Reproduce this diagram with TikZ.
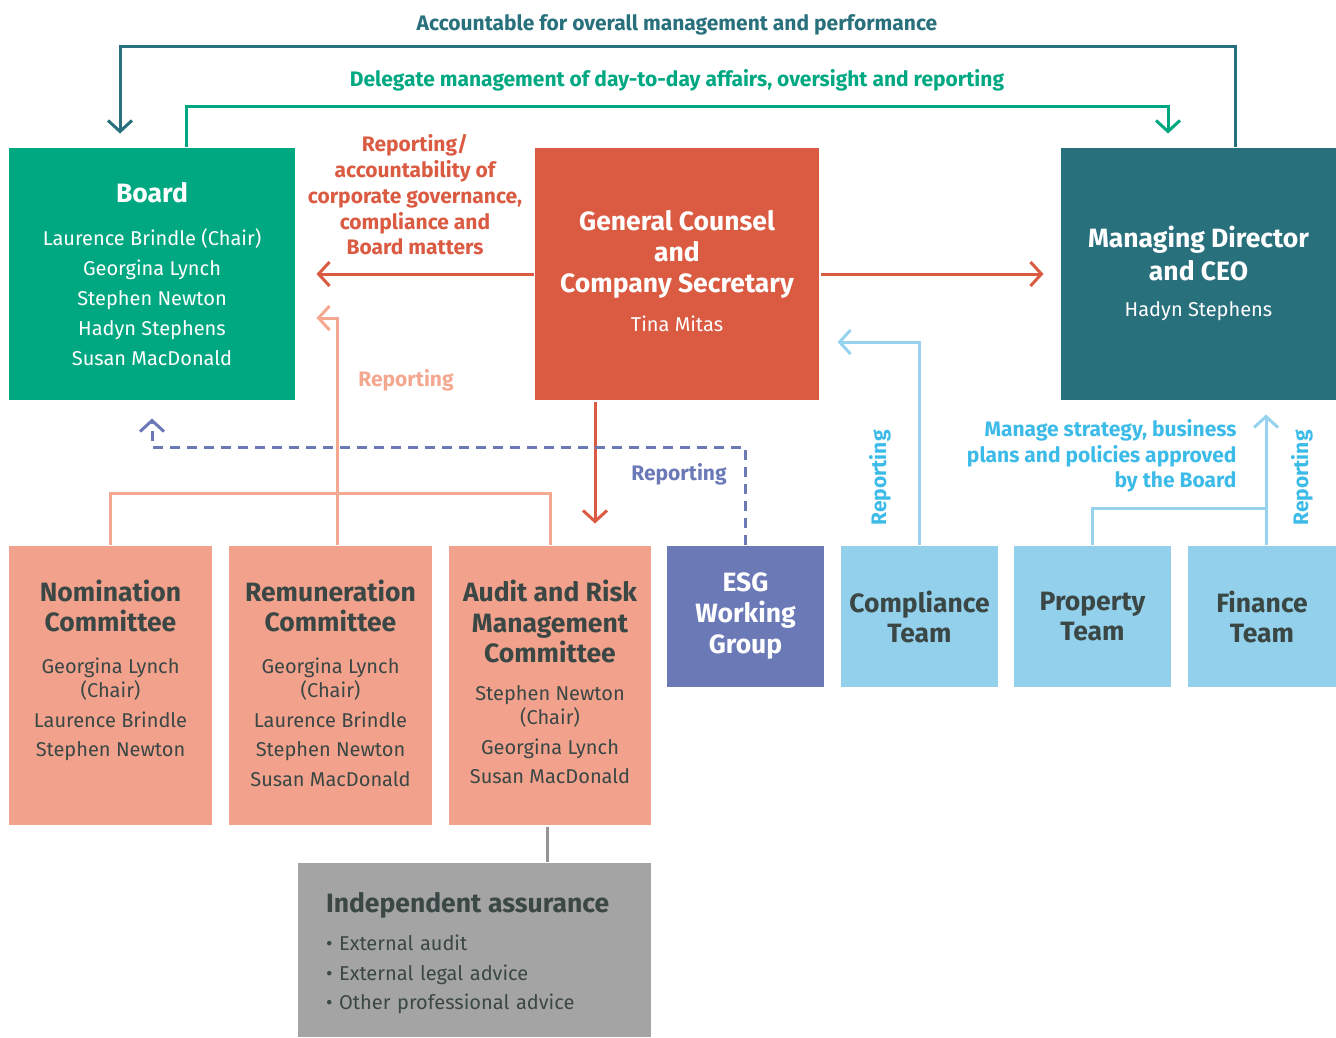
\documentclass[tikz,border=0pt]{standalone}
\usepackage{fontspec}
\setmainfont{Fira Sans}
\usetikzlibrary{arrows.meta,positioning}

\definecolor{boardgreen}{HTML}{00A882}
\definecolor{gcred}{HTML}{DA5B42}
\definecolor{mdteal}{HTML}{29707D}
\definecolor{compink}{HTML}{F2A28C}
\definecolor{repsalmon}{HTML}{F5A890}
\definecolor{esgblue}{HTML}{6B7AB7}
\definecolor{teamblue}{HTML}{93D0EC}
\definecolor{teamline}{HTML}{97D2EE}
\definecolor{cyantext}{HTML}{3DBBE8}
\definecolor{assurgray}{HTML}{A4A4A4}
\definecolor{darktext}{HTML}{3A4745}

% title lines set as one block: \boxtitle[line spacing]{lines}
\newcommand{\boxtitle}[2][30]{{\fontsize{26.5}{#1}\selectfont\bfseries\begin{tabular}[b]{@{}c@{}}#2\end{tabular}}}

\tikzset{
  box/.style={rectangle, inner sep=0pt, align=center, font=\fontsize{20}{30}\selectfont},
  comtext/.style={inner sep=0pt, align=center, text=darktext, font=\fontsize{20}{29.5}\selectfont},
  teamtext/.style={box, text=darktext, font=\fontsize{26.5}{30}\selectfont\bfseries},
  linelabel/.style={inner sep=0pt, align=center, font=\fontsize{21}{25.7}\selectfont\bfseries}
}

\begin{document}
\begin{tikzpicture}[x=1pt, y=-1pt, line width=3pt, >={Straight Barb[length=11pt,width=24pt]}]

\useasboundingbox (0,0) rectangle (1336,1037);

% draw top boxes
\node[box, fill=boardgreen, text=white, minimum width=286pt, minimum height=252pt] (board) at (152,274)
  {\boxtitle{Board}\\[13pt]
   Laurence Brindle (Chair)\\ Georgina Lynch\\ Stephen Newton\\ Hadyn Stephens\\ Susan MacDonald};
\node[box, fill=gcred, text=white, minimum width=284pt, minimum height=252pt] (gc) at (677,274)
  {\boxtitle[31]{General Counsel\\ and\\ Company Secretary}\\[9pt]
   Tina Mitas\rule[-7pt]{0pt}{0pt}};
\node[box, fill=mdteal, text=white, minimum width=275pt, minimum height=252pt] (md) at (1198.5,274)
  {\boxtitle[33]{Managing Director\\ and CEO}\\[6pt]
   Hadyn Stephens\rule[-8pt]{0pt}{0pt}};

% draw committee boxes
\node[box, fill=compink, minimum width=203pt, minimum height=279pt] (nom) at (110.5,685.5) {};
\node[box, fill=compink, minimum width=203pt, minimum height=279pt] (rem) at (330.5,685.5) {};
\node[box, fill=compink, minimum width=202pt, minimum height=279pt] (audit) at (550,685.5) {};

\node[comtext, below=34pt of nom.north] (nom-txt)
  {\boxtitle{Nomination\\ Committee}\\[12.5pt]
   Georgina Lynch\\[-5.5pt] (Chair)\\ Laurence Brindle\\ Stephen Newton};
\node[comtext, below=34pt of rem.north] (rem-txt)
  {\boxtitle{Remuneration\\ Committee}\\[12.5pt]
   Georgina Lynch\\[-5.5pt] (Chair)\\ Laurence Brindle\\ Stephen Newton\\ Susan MacDonald};
\node[comtext, below=34pt of audit.north] (audit-txt)
  {\boxtitle[30.5]{Audit and Risk\\ Management\\ Committee}\\[8.5pt]
   Stephen Newton\\[-5.5pt] (Chair)\\ Georgina Lynch\\ Susan MacDonald};

% draw team boxes
\node[teamtext, fill=esgblue, text=white, font=\fontsize{26.5}{31}\selectfont\bfseries,
  minimum width=157pt, minimum height=141pt] (esg) at (745.5,616.5) {ESG\\ Working\\ Group};
\node[teamtext, fill=teamblue, minimum width=157pt, minimum height=141pt] (comp) at (919.5,616.5) {Compliance\\ Team};
\node[teamtext, fill=teamblue, minimum width=157pt, minimum height=141pt] (prop) at (1092.5,616.5) {Property\\ Team};
\node[teamtext, fill=teamblue, minimum width=148pt, minimum height=141pt] (fin) at (1262,616.5) {Finance\\ Team};

% draw independent assurance
\node[box, fill=assurgray, text=darktext, align=left, text width=297pt, inner xsep=28pt,
  font=\fontsize{20}{29.5}\selectfont, minimum width=353pt, minimum height=174pt] (assur) at (474.5,950)
  {\rule{0pt}{26pt}\boxtitle{Independent assurance}\\[9pt]
   \textbullet\ External audit\\ \textbullet\ External legal advice\\ \textbullet\ Other professional advice};

% draw labels
\node[linelabel, text=mdteal] (acc-lbl) at (677,25) {Accountable for overall management and performance};
\node[linelabel, text=boardgreen] (del-lbl) at (677,80) {Delegate management of day-to-day affairs, oversight and reporting};
\node[linelabel, text=gcred] (gc-lbl) at (415,195)
  {Reporting/\\ accountability of\\ corporate governance,\\ compliance and\\ Board matters};
\node[linelabel, text=repsalmon] (rem-lbl) at (406,380) {Reporting};
\node[linelabel, text=esgblue] (esg-lbl) at (679,474) {Reporting};
\node[linelabel, text=cyantext, rotate=90] (comp-lbl) at (880,478) {Reporting};
\node[linelabel, text=cyantext, rotate=90] (fin-lbl) at (1302,478) {Reporting};
\node[linelabel, text=cyantext, align=right, anchor=north east] (md-lbl) at (1238,418)
  {Manage strategy, business\\ plans and policies approved\\ by the Board};

% draw top arrows
\coordinate (acc-top) at (677,46);
\coordinate (del-top) at (677,106);
\draw[->, color=mdteal] ([xshift=36.5pt]md.north) |- (acc-top) -| ([xshift=-32pt,yshift=13pt]board.north);
\draw[->, color=boardgreen] ([xshift=34pt]board.north) |- (del-top) -| ([xshift=-30.5pt,yshift=13pt]md.north);

% draw general counsel arrows
\draw[->, color=gcred] (gc.west) -- ([xshift=20pt]board.east);
\draw[->, color=gcred] (gc.east) -- ([xshift=-16pt]md.west);
\draw[->, color=gcred] ([xshift=-82pt]gc.south) -- ([xshift=45pt,yshift=21pt]audit.north);

% draw committee reporting
\draw[color=repsalmon] (nom.north) |- ([yshift=51pt]audit.north) -- (audit.north);
\draw[->, color=repsalmon] ([xshift=6.5pt]rem.north) |- ([xshift=20pt,yshift=-44pt]board.east);

% draw esg reporting
\draw[->, color=esgblue, dash pattern=on 10pt off 7pt] (esg.north) -- ++(0,-97) -| ([yshift=-17pt]board.south);

% draw team reporting
\draw[->, color=teamline] (comp.north) |- ([xshift=17pt,yshift=-68pt]gc.east);
\draw[color=teamline] (prop.north) |- ([xshift=4pt,yshift=36pt]fin.north);
\draw[->, color=teamline] ([xshift=4pt]fin.north) -- ([xshift=67.5pt,yshift=-13pt]md.south);

% draw assurance link
\draw[color=assurgray!90!black] ([xshift=-3pt]audit.south) -- ([xshift=-3pt]audit.south |- assur.north);

\end{tikzpicture}
\end{document}
